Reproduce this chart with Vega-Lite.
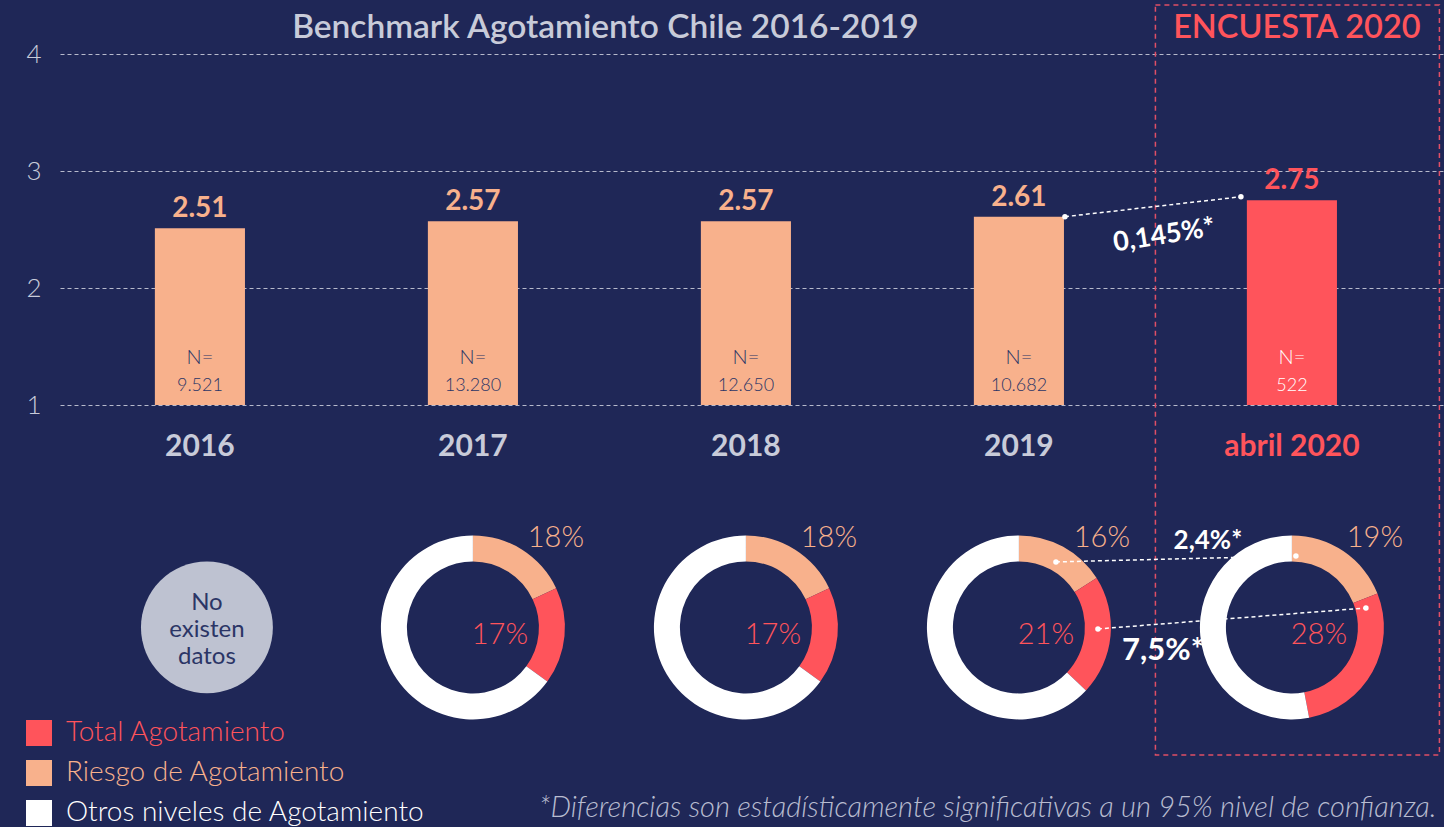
{
  "$schema": "https://vega.github.io/schema/vega-lite/v6.json",
  "width": 1444,
  "height": 827,
  "autosize": {"type": "fit", "contains": "padding"},
  "padding": 0,
  "background": "#1f2757",
  "config": {"view": {"stroke": null}, "font": "Lato"},
  "data": {"values": [{}]},
  "datasets": {
    "bars": [
      {"year": "2016", "v": 2.51, "n": "9.521"},
      {"year": "2017", "v": 2.57, "n": "13.280"},
      {"year": "2018", "v": 2.57, "n": "12.650"},
      {"year": "2019", "v": 2.61, "n": "10.682"},
      {"year": "abril 2020", "v": 2.75, "n": "522"}
    ],
    "donuts": [
      {"year": "2017", "cat": "Riesgo de Agotamiento", "k": 1, "pct": 0.18},
      {"year": "2017", "cat": "Total Agotamiento", "k": 2, "pct": 0.17},
      {"year": "2017", "cat": "Otros niveles de Agotamiento", "k": 3, "pct": 0.65},
      {"year": "2018", "cat": "Riesgo de Agotamiento", "k": 1, "pct": 0.18},
      {"year": "2018", "cat": "Total Agotamiento", "k": 2, "pct": 0.17},
      {"year": "2018", "cat": "Otros niveles de Agotamiento", "k": 3, "pct": 0.65},
      {"year": "2019", "cat": "Riesgo de Agotamiento", "k": 1, "pct": 0.16},
      {"year": "2019", "cat": "Total Agotamiento", "k": 2, "pct": 0.21},
      {"year": "2019", "cat": "Otros niveles de Agotamiento", "k": 3, "pct": 0.63},
      {"year": "abril 2020", "cat": "Riesgo de Agotamiento", "k": 1, "pct": 0.19},
      {"year": "abril 2020", "cat": "Total Agotamiento", "k": 2, "pct": 0.28},
      {"year": "abril 2020", "cat": "Otros niveles de Agotamiento", "k": 3, "pct": 0.53}
    ],
    "nodata": [{"year": "2016", "msg": ["No", "existen", "datos"]}]
  },
  "layer": [
    {
      "data": {"name": "bars"},
      "mark": {"type": "bar", "width": {"band": 0.33}},
      "encoding": {
        "x": {
          "field": "year", "type": "nominal", "axis": null,
          "scale": {"domain": ["2016", "2017", "2018", "2019", "abril 2020"], "paddingInner": 0, "paddingOuter": 0.0348, "align": 0.18}
        },
        "y": {
          "field": "v", "type": "quantitative",
          "scale": {"domain": [-2.607, 4.462], "nice": false, "zero": false},
          "axis": {
            "values": [1, 2, 3, 4], "format": "d", "title": null, "domain": false, "ticks": false,
            "labelFontSize": 26, "labelFontWeight": 300, "labelColor": "#c8cbd9", "labelPadding": 19,
            "minExtent": 60, "maxExtent": 60,
            "gridColor": "#c8cbd9", "gridDash": [4, 3], "gridWidth": 1, "gridOpacity": 0.9
          }
        },
        "y2": {"datum": 1},
        "color": {"condition": {"test": "datum.year === 'abril 2020'", "value": "#ff545b"}, "value": "#f8b18c"}
      }
    },
    {
      "mark": {"type": "rect", "fill": "transparent", "stroke": "#e04f66", "strokeDash": [5, 4], "strokeWidth": 1.5, "xOffset": 0, "x2Offset": 11},
      "encoding": {
        "x": {"datum": "abril 2020", "bandPosition": 0},
        "x2": {"datum": "abril 2020", "bandPosition": 1},
        "y": {"datum": 4.419},
        "y2": {"datum": -1.991}
      }
    },
    {
      "data": {"name": "bars"},
      "mark": {"type": "text", "baseline": "bottom", "dy": -5, "fontSize": 28, "fontWeight": "bold"},
      "encoding": {
        "x": {"field": "year", "type": "nominal"},
        "y": {"field": "v", "type": "quantitative"},
        "text": {"field": "v", "type": "quantitative", "format": ".2f"},
        "color": {"condition": {"test": "datum.year === 'abril 2020'", "value": "#ff545b"}, "value": "#f8b18c"}
      }
    },
    {
      "data": {"name": "bars"},
      "mark": {"type": "text", "baseline": "middle", "fontSize": 20, "fontWeight": 300},
      "encoding": {
        "x": {"field": "year", "type": "nominal"},
        "y": {"datum": 1.402},
        "text": {"value": "N="},
        "color": {"condition": {"test": "datum.year === 'abril 2020'", "value": "#ffffff"}, "value": "#2b3566"}
      }
    },
    {
      "data": {"name": "bars"},
      "mark": {"type": "text", "baseline": "middle", "fontSize": 18, "fontWeight": 300},
      "encoding": {
        "x": {"field": "year", "type": "nominal"},
        "y": {"datum": 1.163},
        "text": {"field": "n", "type": "nominal"},
        "color": {"condition": {"test": "datum.year === 'abril 2020'", "value": "#ffffff"}, "value": "#2b3566"}
      }
    },
    {
      "data": {"name": "bars"},
      "mark": {"type": "text", "baseline": "middle", "fontSize": 30, "fontWeight": "bold"},
      "encoding": {
        "x": {"field": "year", "type": "nominal"},
        "y": {"datum": 0.641},
        "text": {"field": "year", "type": "nominal"},
        "color": {"condition": {"test": "datum.year === 'abril 2020'", "value": "#ff545b"}, "value": "#c8cbd9"}
      }
    },
    {
      "mark": {"type": "text", "baseline": "middle", "align": "center", "dx": -4, "fontSize": 33.5, "fontWeight": 600, "color": "#c8cbd9"},
      "encoding": {
        "x": {"datum": "2018", "bandPosition": 0},
        "y": {"datum": 4.223},
        "text": {"value": "Benchmark Agotamiento Chile 2016-2019"}
      }
    },
    {
      "mark": {"type": "text", "baseline": "middle", "align": "center", "dx": 5, "fontSize": 32.5, "fontWeight": 600, "color": "#ff545b"},
      "encoding": {
        "x": {"datum": "abril 2020"},
        "y": {"datum": 4.223},
        "text": {"value": "ENCUESTA 2020"}
      }
    },
    {
      "mark": {"type": "rule", "color": "#ffffff", "strokeDash": [4, 3], "strokeWidth": 1.5, "xOffset": 46, "x2Offset": -51},
      "encoding": {
        "x": {"datum": "2019"},
        "x2": {"datum": "abril 2020"},
        "y": {"datum": 2.61},
        "y2": {"datum": 2.78}
      }
    },
    {
      "mark": {"type": "point", "filled": true, "opacity": 1, "color": "#ffffff", "size": 30, "xOffset": 46},
      "encoding": {"x": {"datum": "2019"}, "y": {"datum": 2.61}}
    },
    {
      "mark": {"type": "point", "filled": true, "opacity": 1, "color": "#ffffff", "size": 30, "xOffset": -51},
      "encoding": {"x": {"datum": "abril 2020"}, "y": {"datum": 2.78}}
    },
    {
      "mark": {"type": "text", "baseline": "middle", "align": "center", "dx": 8, "dy": 5, "angle": 351, "fontSize": 27, "fontWeight": "bold", "color": "#ffffff"},
      "encoding": {
        "x": {"datum": "abril 2020", "bandPosition": 0},
        "y": {"datum": 2.479},
        "text": {"value": "0,145%*"}
      }
    },
    {
      "data": {"name": "nodata"},
      "mark": {"type": "point", "shape": "circle", "filled": true, "opacity": 1, "color": "#bec2d1", "size": 17400, "xOffset": 7},
      "encoding": {"x": {"field": "year", "type": "nominal"}, "y": {"datum": -0.901}}
    },
    {
      "data": {"name": "nodata"},
      "mark": {"type": "text", "baseline": "middle", "align": "center", "dx": 7, "dy": -24, "fontSize": 24, "lineHeight": 27, "color": "#2b3566"},
      "encoding": {"x": {"field": "year", "type": "nominal"}, "y": {"datum": -0.901}, "text": {"field": "msg"}}
    },
    {
      "data": {"name": "donuts"},
      "transform": [{"stack": "pct", "groupby": ["year"], "sort": [{"field": "k", "order": "ascending"}], "as": ["t0", "t1"]}],
      "mark": {"type": "arc", "outerRadius": 92, "innerRadius": 66},
      "encoding": {
        "x": {"field": "year", "type": "nominal"},
        "y": {"datum": -0.901, "type": "quantitative", "stack": null},
        "theta": {"field": "t0", "type": "quantitative", "scale": {"domain": [0, 1]}, "stack": null},
        "theta2": {"field": "t1"},
        "color": {
          "field": "cat", "type": "nominal",
          "scale": {"domain": ["Total Agotamiento", "Riesgo de Agotamiento", "Otros niveles de Agotamiento"], "range": ["#ff545b", "#f8b18c", "#ffffff"]},
          "legend": {
            "orient": "none", "legendX": -35, "legendY": 719, "title": null, "padding": 0,
            "symbolType": "square", "symbolSize": 676, "symbolStrokeWidth": 0, "symbolOpacity": 1,
            "labelFontSize": 28, "labelFontWeight": 300, "labelOffset": 13, "rowPadding": 12, "labelLimit": 600,
            "encode": {"labels": {"update": {"fill": {"signal": "datum.value === 'Total Agotamiento' ? '#ff545b' : datum.value === 'Riesgo de Agotamiento' ? '#f8b18c' : '#ffffff'"}}}}
          }
        }
      }
    },
    {
      "data": {"name": "donuts"},
      "transform": [{"filter": "datum.k === 1"}],
      "mark": {"type": "text", "baseline": "middle", "align": "center", "dx": 83, "dy": -89, "fontSize": 29, "fontWeight": 300},
      "encoding": {
        "x": {"field": "year", "type": "nominal"},
        "y": {"datum": -0.901},
        "text": {"field": "pct", "type": "quantitative", "format": ".0%"},
        "color": {"field": "cat", "type": "nominal", "legend": null}
      }
    },
    {
      "data": {"name": "donuts"},
      "transform": [{"filter": "datum.k === 2"}],
      "mark": {"type": "text", "baseline": "middle", "align": "center", "dx": 27, "dy": 8, "fontSize": 29, "fontWeight": 300},
      "encoding": {
        "x": {"field": "year", "type": "nominal"},
        "y": {"datum": -0.901},
        "text": {"field": "pct", "type": "quantitative", "format": ".0%"},
        "color": {"field": "cat", "type": "nominal", "legend": null}
      }
    },
    {
      "mark": {"type": "rule", "color": "#ffffff", "strokeDash": [4, 3], "strokeWidth": 1.5, "xOffset": 37, "x2Offset": 4},
      "encoding": {"x": {"datum": "2019"}, "x2": {"datum": "abril 2020"}, "y": {"datum": -0.341}, "y2": {"datum": -0.29}}
    },
    {
      "mark": {"type": "rule", "color": "#ffffff", "strokeDash": [4, 3], "strokeWidth": 1.5, "xOffset": 79, "x2Offset": 74},
      "encoding": {"x": {"datum": "2019"}, "x2": {"datum": "abril 2020"}, "y": {"datum": -0.914}, "y2": {"datum": -0.735}}
    },
    {
      "mark": {"type": "point", "filled": true, "opacity": 1, "color": "#ffffff", "size": 30, "xOffset": 37},
      "encoding": {"x": {"datum": "2019"}, "y": {"datum": -0.341}}
    },
    {
      "mark": {"type": "point", "filled": true, "opacity": 1, "color": "#ffffff", "size": 30, "xOffset": 4},
      "encoding": {"x": {"datum": "abril 2020"}, "y": {"datum": -0.29}}
    },
    {
      "mark": {"type": "point", "filled": true, "opacity": 1, "color": "#ffffff", "size": 30, "xOffset": 79},
      "encoding": {"x": {"datum": "2019"}, "y": {"datum": -0.914}}
    },
    {
      "mark": {"type": "point", "filled": true, "opacity": 1, "color": "#ffffff", "size": 30, "xOffset": 74},
      "encoding": {"x": {"datum": "abril 2020"}, "y": {"datum": -0.735}}
    },
    {
      "mark": {"type": "text", "baseline": "middle", "align": "center", "dx": -84, "fontSize": 26, "fontWeight": "bold", "color": "#ffffff"},
      "encoding": {"x": {"datum": "abril 2020"}, "y": {"datum": -0.162}, "text": {"value": "2,4%*"}}
    },
    {
      "mark": {"type": "text", "baseline": "middle", "align": "center", "dx": -129, "fontSize": 31, "fontWeight": "bold", "color": "#ffffff"},
      "encoding": {"x": {"datum": "abril 2020"}, "y": {"datum": -1.102}, "text": {"value": "7,5%*"}}
    },
    {
      "mark": {"type": "text", "baseline": "middle", "align": "right", "dx": 8, "fontSize": 29, "fontWeight": 300, "fontStyle": "italic", "color": "#b8bcd0"},
      "encoding": {
        "x": {"datum": "abril 2020", "bandPosition": 1},
        "y": {"datum": -2.444},
        "text": {"value": "*Diferencias son estadísticamente significativas a un 95% nivel de confianza."}
      }
    }
  ]
}
